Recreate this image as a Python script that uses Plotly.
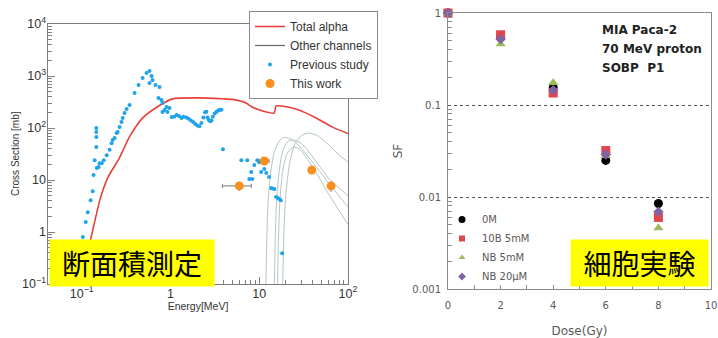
import plotly.graph_objects as go

OX, OY, FW, FH = 0, 0, 718, 338

# ---------------- left panel: cross sections ----------------
alpha_E = [0.095, 0.123, 0.16, 0.196, 0.267, 0.346, 0.484, 0.70, 1.05, 2.12, 3.84, 5.0,
           7.1, 8.3, 12.0, 14.7, 15.5, 18.1, 28, 43.7, 66, 100]
alpha_xs = [0.1, 0.6, 4.1, 11, 27, 68, 155, 251, 363, 380, 365, 355,
            303, 253, 203, 194, 265, 265, 222, 156, 105, 78]

other_E_1 = [11.9, 12.1, 12.5, 13.3, 14.8, 17, 19.5, 24, 32, 45, 65, 100]
other_xs_1 = [0.1, 0.5, 3, 12, 35, 58, 66, 58, 35, 17, 7.5, 3.0]
other_E_2 = [14.8, 15.1, 15.7, 16.8, 18.5, 21, 24, 30, 40, 60, 100]
other_xs_2 = [0.1, 0.6, 4, 15, 38, 55, 59, 50, 28, 11, 5]
other_E_3 = [16.1, 16.4, 17.1, 18.3, 20.5, 24, 28, 40, 60, 100]
other_xs_3 = [0.1, 0.6, 4, 14, 32, 43, 40, 18, 5.5, 1.4]
other_E_4 = [18.4, 18.9, 19.9, 21.9, 25, 30, 36, 45, 60, 80, 100]
other_xs_4 = [0.1, 0.8, 5, 20, 48, 72, 80, 72, 48, 30, 22]

prev_E = [0.103, 0.111, 0.117, 0.126, 0.133, 0.136, 0.140, 0.146, 0.146, 0.146, 0.146,
          0.148, 0.155, 0.159, 0.168, 0.177, 0.191, 0.206, 0.217, 0.223, 0.235, 0.247,
          0.254, 0.267, 0.281, 0.289, 0.304, 0.320, 0.346, 0.394, 0.437, 0.485, 0.537,
          0.581, 0.612, 0.581, 0.628, 0.678, 0.752, 0.733, 0.792, 0.813, 0.857, 0.813,
          0.902, 0.925, 0.975, 1.03, 1.1, 1.17, 1.25, 1.33, 1.4, 1.51, 1.6, 1.7, 1.8,
          1.9, 2.0, 2.12, 2.23, 2.35, 2.45, 2.54, 2.62, 2.7, 2.8, 2.9, 3.0, 3.15, 3.3,
          3.45, 3.6, 3.75, 3.9,
          6.28, 7.33, 7.72, 8.13, 8.34, 8.79, 9.50, 10.0, 10.5, 11.4, 12.0, 12.9, 13.6,
          14.0, 14.8, 15.5, 16.2, 16.8, 17.5, 18.1, 43.7]
prev_xs = [0.80, 1.56, 2.4, 4.1, 6.1, 12.5, 24, 43, 67, 84, 100,
           17, 17.8, 21, 21, 24, 30, 38, 51, 59, 64, 80,
           84, 105, 130, 156, 194, 232, 277, 471, 671, 915, 1142,
           1248, 1000, 733, 837, 671, 614, 377, 345, 303, 222, 203,
           253, 203, 243, 163, 165, 178, 170, 156, 165, 160, 150, 140, 130,
           120, 112, 108, 125, 160, 200, 205, 160, 143, 135, 140, 165, 190,
           205, 218, 225, 225,
           39, 24, 24, 10.4, 14.3, 10.4, 19.4, 24, 22, 14.3, 16.3, 13.6, 11.4,
           7.0, 6.9, 6.7, 4.7, 4.5, 4.3, 4.1, 0.39]

this_E = [5.96, 11.4, 39.1, 64.4]
this_xs = [7.7, 23.2, 15.5, 7.7]
this_E_plus = [2.17, 1.5, 0, 0]
this_E_minus = [2.12, 1.4, 0, 0]
this_xs_err = [1.5, 2.5, 2.0, 1.8]

# ---------------- right panel: survival fraction ----------------
dose = [0, 2, 4, 6, 8]
sf_0M = [1, 0.55, 0.155, 0.025, 0.0085]
sf_10B = [1, 0.58, 0.135, 0.032, 0.0060]
sf_NB5 = [1, 0.46, 0.175, 0.028, 0.0046]
sf_NB20 = [1, 0.52, 0.145, 0.029, 0.0069]

LFONT = "Liberation Sans, Arial, sans-serif"
RFONT = "DejaVu Sans, Verdana, sans-serif"
CJK = "Noto Sans CJK JP"

fig = go.Figure()

# left traces
fig.add_trace(go.Scatter(x=alpha_E, y=alpha_xs, mode="lines", name="Total alpha",
                         line=dict(color="#e8403c", width=1.6, shape="spline", smoothing=0.6),
                         xaxis="x", yaxis="y", legend="legend"))
for ex, sx in [(other_E_1, other_xs_1), (other_E_2, other_xs_2),
               (other_E_3, other_xs_3), (other_E_4, other_xs_4)]:
    fig.add_trace(go.Scatter(x=ex, y=sx, mode="lines", name="Other channels",
                             line=dict(color="#b3c6c1", width=1, shape="spline", smoothing=0.7),
                             showlegend=False, xaxis="x", yaxis="y"))
fig.add_trace(go.Scatter(x=[None], y=[None], mode="lines", name="Other channels",
                         line=dict(color="#666666", width=1.2), xaxis="x", yaxis="y",
                         legend="legend"))
fig.add_trace(go.Scatter(x=prev_E, y=prev_xs, mode="markers", name="Previous study",
                         marker=dict(color="#1fa3ea", size=4), xaxis="x", yaxis="y",
                         legend="legend"))
fig.add_trace(go.Scatter(x=this_E, y=this_xs, mode="markers", name="This work",
                         marker=dict(color="#f7901e", size=9),
                         error_x=dict(type="data", array=this_E_plus, arrayminus=this_E_minus,
                                      color="#7a7a7a", thickness=1, width=2),
                         error_y=dict(type="data", array=this_xs_err, color="#7a7a7a",
                                      thickness=1, width=0),
                         xaxis="x", yaxis="y", legend="legend"))

# right traces (data) + small legend samples
series = [("0M", sf_0M, "#000000", "circle", 9),
          ("10B 5mM", sf_10B, "#e0464e", "square", 9),
          ("NB 5mM", sf_NB5, "#9bbb59", "triangle-up", 9),
          ("NB 20μM", sf_NB20, "#8064a2", "diamond", 8)]
for name, vals, col, sym, sz in series:
    fig.add_trace(go.Scatter(x=dose, y=vals, mode="markers", name=name,
                             marker=dict(color=col, symbol=sym, size=sz), showlegend=False,
                             cliponaxis=False, xaxis="x2", yaxis="y2"))
for name, vals, col, sym, sz in series:
    fig.add_trace(go.Scatter(x=[None], y=[None], mode="markers", name=name,
                             marker=dict(color=col, symbol=sym, size=6 if sym != "circle" else 7),
                             xaxis="x2", yaxis="y2", legend="legend2"))


def px(p):
    return (p - OX) / FW


def py(p):
    return 1 - (p - OY) / FH


axl = dict(showline=True, linecolor="#7f7f7f", linewidth=1, mirror=True, ticks="inside",
           ticklen=7, tickcolor="#7f7f7f", showgrid=False, zeroline=False, automargin=False,
           tickfont=dict(family=LFONT, size=10, color="#333"))

fig.update_layout(
    margin=dict(l=0, r=0, t=0, b=0, autoexpand=False),
    paper_bgcolor="white", plot_bgcolor="white", font=dict(family=LFONT),
    xaxis=dict(axl, type="log", range=[-1.38, 2.0], domain=[px(48), px(348)], anchor="y",
               dtick=1, exponentformat="power",
               minor=dict(ticks="inside", ticklen=4, tickcolor="#7f7f7f", showgrid=False),
               ticklabelstandoff=-2,
               title=dict(text="Energy[MeV]", font=dict(family=LFONT, size=10.5, color="#333"),
                          standoff=3)),
    yaxis=dict(axl, type="log", range=[-1, 4], domain=[py(284), py(24)], anchor="x",
               dtick=1, exponentformat="power",
               minor=dict(ticks="inside", ticklen=4, tickcolor="#7f7f7f", showgrid=False),
               ticklabelstandoff=-1),
    xaxis2=dict(range=[0, 10], domain=[px(448), px(711)], anchor="y2",
                dtick=2, tick0=0, automargin=False,
                showline=True, linecolor="#8c8c8c", mirror=True, ticks="inside", ticklen=4,
                tickcolor="#8c8c8c", showgrid=False, zeroline=False,
                minor=dict(dtick=1, ticks="inside", ticklen=4, tickcolor="#8c8c8c",
                           showgrid=False),
                ticklabelstandoff=7,
                tickfont=dict(family=RFONT, size=10, color="#595959"),
                title=dict(text="Dose(Gy)", font=dict(family=RFONT, size=12, color="#595959"),
                           standoff=17)),
    yaxis2=dict(type="log", range=[-3, 0], domain=[py(289), py(13)], anchor="x2",
                dtick=1, exponentformat="none", automargin=False,
                showline=True, linecolor="#8c8c8c", mirror=True, ticks="", zeroline=False,
                showgrid=True, gridcolor="#555555", griddash="dot", gridwidth=1,
                minor=dict(ticks="inside", ticklen=4, tickcolor="#8c8c8c", showgrid=False),
                ticklabelstandoff=4,
                tickfont=dict(family=RFONT, size=10, color="#595959"),
                title=dict(text="SF", font=dict(family=RFONT, size=12, color="#595959"),
                           standoff=7)),
    legend=dict(x=px(249), y=py(11), xanchor="left", yanchor="top", bgcolor="white",
                bordercolor="#8a8a8a", borderwidth=1, itemwidth=30,
                font=dict(family=LFONT, size=12, color="#333")),
    legend2=dict(x=px(442), y=py(248), xanchor="left", yanchor="middle",
                 bgcolor="rgba(0,0,0,0)", borderwidth=0, itemwidth=30,
                 font=dict(family=RFONT, size=10, color="#595959")),
    annotations=[
        dict(text="Cross Section [mb]", x=px(15), y=py(154), xref="paper", yref="paper",
             xanchor="center", yanchor="middle", textangle=-90, showarrow=False,
             font=dict(family=LFONT, size=10, color="#333")),
        dict(text="MIA Paca-2", x=px(600), y=py(30), xref="paper", yref="paper",
             xanchor="left", yanchor="middle", showarrow=False,
             font=dict(family=RFONT, size=12, color="#222", weight="bold")),
        dict(text="70 MeV proton", x=px(600), y=py(49), xref="paper", yref="paper",
             xanchor="left", yanchor="middle", showarrow=False,
             font=dict(family=RFONT, size=12, color="#222", weight="bold")),
        dict(text="SOBP  P1", x=px(600), y=py(68), xref="paper", yref="paper",
             xanchor="left", yanchor="middle", showarrow=False,
             font=dict(family=RFONT, size=12, color="#222", weight="bold")),
        dict(text="断面積測定", x=px(49), y=py(239), xref="paper", yref="paper",
             xanchor="left", yanchor="top", showarrow=False, bgcolor="#ffff00",
             width=164, height=46, borderpad=0, align="center", valign="middle",
             font=dict(family=CJK, size=28, color="#000")),
        dict(text="細胞実験", x=px(570), y=py(239), xref="paper", yref="paper",
             xanchor="left", yanchor="top", showarrow=False, bgcolor="#ffff00",
             width=137, height=46, borderpad=0, align="center", valign="middle",
             font=dict(family=CJK, size=28, color="#000")),
    ],
)

fig.write_html("out.html", config={"displayModeBar": False},
               default_width="%dpx" % FW,
               default_height="%dpx; position:absolute; top:0; left:0" % FH,
               post_script="document.body.style.margin='0';")
